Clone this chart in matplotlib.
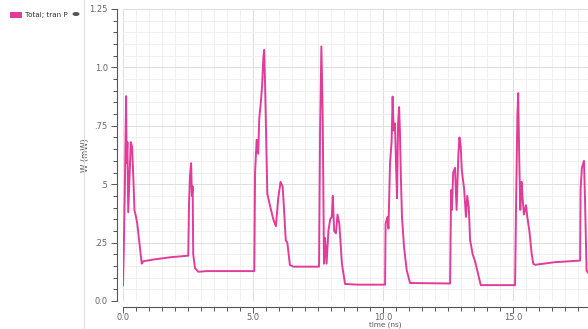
import matplotlib
matplotlib.use("Agg")
import matplotlib.pyplot as plt
from matplotlib.ticker import MultipleLocator, FixedLocator
from matplotlib.patches import Rectangle, Ellipse
from matplotlib.lines import Line2D

# ---- data (time in ns, power in mW) ----
time_ns = [0.0, 0.03, 0.07, 0.10, 0.12, 0.14, 0.17, 0.20, 0.25, 0.30, 0.35, 0.40, 0.44, 0.50, 0.55,
           0.72, 0.78, 1.2, 1.8, 2.51, 2.54, 2.58, 2.62, 2.65, 2.68, 2.70, 2.77, 2.90, 3.2, 5.05,
           5.08, 5.14, 5.20, 5.24, 5.30, 5.35, 5.40, 5.43, 5.47, 5.50, 5.55, 5.65, 5.78, 5.88, 5.97,
           6.06, 6.14, 6.19, 6.26, 6.32, 6.42, 6.55, 7.54, 7.58, 7.63, 7.68, 7.73, 7.77, 7.83, 7.90,
           7.97, 8.03, 8.07, 8.12, 8.19, 8.25, 8.32, 8.42, 8.54, 9.0, 10.08,
           10.10, 10.17, 10.21, 10.27, 10.33, 10.37, 10.41, 10.46, 10.50, 10.54, 10.58, 10.62, 10.65,
           10.69, 10.73, 10.81, 10.91, 11.04, 12.58,
           12.62, 12.65, 12.70, 12.77, 12.83, 12.90, 12.94, 12.99, 13.03, 13.12, 13.19, 13.24, 13.30,
           13.35, 13.45, 13.54, 13.67, 13.76, 15.08,
           15.12, 15.17, 15.20, 15.24, 15.28, 15.33, 15.37, 15.42, 15.50, 15.55, 15.63, 15.72, 15.78,
           15.85, 16.6, 17.58, 17.60, 17.65, 17.73, 17.77, 17.83, 17.9]
power_mw = [0.068, 0.22, 0.47, 0.73, 0.877, 0.59, 0.68, 0.38, 0.53, 0.68, 0.66, 0.52, 0.39, 0.36, 0.33,
            0.16, 0.17, 0.178, 0.187, 0.194, 0.42, 0.54, 0.59, 0.45, 0.49, 0.20, 0.14, 0.125, 0.128, 0.128,
            0.55, 0.69, 0.63, 0.78, 0.85, 0.92, 1.045, 1.075, 0.90, 0.73, 0.46, 0.41, 0.35, 0.32, 0.44,
            0.51, 0.49, 0.40, 0.26, 0.25, 0.154, 0.147, 0.147, 0.73, 1.09, 0.80, 0.16, 0.27, 0.16, 0.30,
            0.35, 0.36, 0.45, 0.30, 0.29, 0.37, 0.33, 0.16, 0.073, 0.07, 0.07,
            0.33, 0.36, 0.31, 0.59, 0.68, 0.875, 0.73, 0.76, 0.59, 0.44, 0.76, 0.83, 0.73,
            0.52, 0.36, 0.23, 0.133, 0.077, 0.075,
            0.475, 0.39, 0.55, 0.57, 0.39, 0.63, 0.70, 0.66, 0.56, 0.48, 0.36, 0.45, 0.40,
            0.26, 0.20, 0.17, 0.11, 0.068, 0.068,
            0.43, 0.80, 0.89, 0.61, 0.39, 0.51, 0.44, 0.37, 0.41, 0.36, 0.30, 0.20, 0.16,
            0.155, 0.166, 0.173, 0.48, 0.57, 0.60, 0.43, 0.13, 0.12]

series_label = "Total; tran P"
y_ticks = [0.0, 0.25, 0.5, 0.75, 1.0, 1.25]
y_tick_labels = ["0.0", ".25", ".5", ".75", "1.0", "1.25"]
x_ticks = [0.0, 5.0, 10.0, 15.0]
x_tick_labels = ["0.0", "5.0", "10.0", "15.0"]

W, H = 588, 329
fig = plt.figure(figsize=(W / 100, H / 100), dpi=100)
fig.patch.set_facecolor("white")

left_px, right_px, top_px, bottom_px = 123, 588, 9, 301
ax = fig.add_axes([left_px / W, 1 - bottom_px / H, (right_px - left_px) / W, (bottom_px - top_px) / H])

line_color = "#E23C9B"
ax.plot(time_ns, power_mw, color=line_color, lw=1.4, solid_joinstyle="round")

ax.set_xlim(0, (right_px - left_px) / 26.0)
ax.set_ylim(0, 1.25)

ax.xaxis.set_major_locator(FixedLocator(x_ticks))
ax.set_xticklabels(x_tick_labels)
ax.xaxis.set_minor_locator(MultipleLocator(0.5))
ax.yaxis.set_major_locator(FixedLocator(y_ticks))
ax.set_yticklabels(y_tick_labels)
ax.yaxis.set_minor_locator(MultipleLocator(0.05))

ax.grid(which="minor", color="#EEEEEE", lw=0.6)
ax.grid(which="major", color="#DDDDDD", lw=0.7)
ax.set_axisbelow(True)

for s in ["top", "right"]:
    ax.spines[s].set_visible(False)
ax.spines["left"].set_position(("outward", 4))
ax.spines["bottom"].set_position(("outward", 4))
for s in ["left", "bottom"]:
    ax.spines[s].set_color("#555555")
    ax.spines[s].set_linewidth(0.8)

ax.tick_params(which="both", colors="#555555", labelsize=6, width=0.7, direction="out")
ax.tick_params(which="major", length=4)
ax.tick_params(which="minor", length=3)
ax.tick_params(axis="y", labelcolor="#666666", pad=3)
ax.tick_params(axis="x", labelcolor="#666666", pad=0.5)

ax.set_ylabel("W (mW)", fontsize=6, color="#555555")
ax.yaxis.set_label_coords(-33 / (right_px - left_px), 0.5)
ax.set_xlabel("time (ns)", fontsize=5.2, color="#555555", va="top")
ax.xaxis.set_label_coords((385 - left_px) / (right_px - left_px), -(321 - bottom_px) / (bottom_px - top_px))

# legend area on the left
fig.add_artist(Rectangle((10 / W, 1 - 18 / H), 12 / W, 6 / H, transform=fig.transFigure,
                         facecolor=line_color, edgecolor="none"))
fig.text(25 / W, 1 - 14.5 / H, series_label, fontsize=5.2, color="#333333", va="center", ha="left")
fig.add_artist(Ellipse((76 / W, 1 - 14 / H), 7 / W, 4 / H, transform=fig.transFigure,
                       facecolor="#555555", edgecolor="none"))
fig.add_artist(Line2D([84 / W, 84 / W], [0, 1], transform=fig.transFigure, color="#DDDDDD", lw=0.8))

fig.savefig("out.png", dpi=100, facecolor="white")
